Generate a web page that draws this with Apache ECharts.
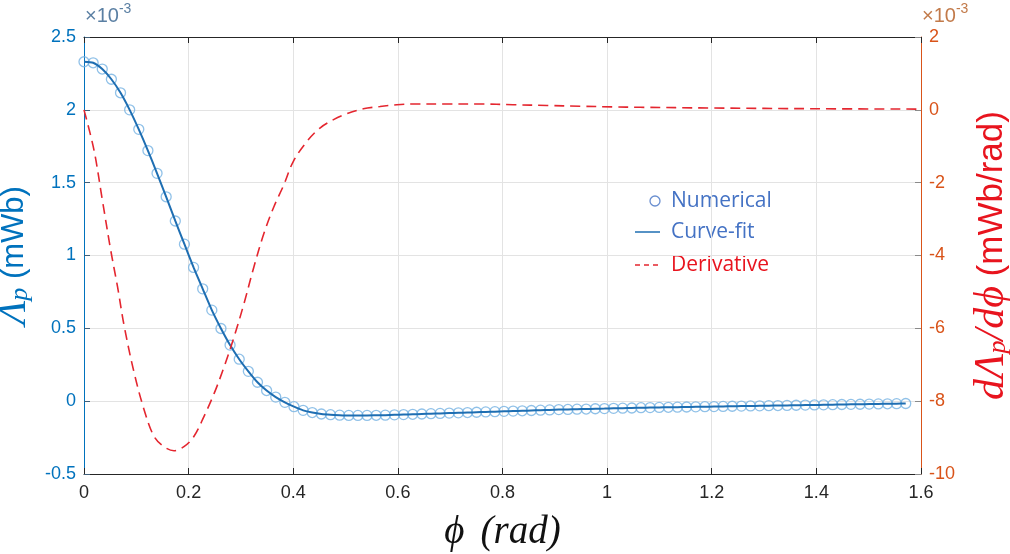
<!DOCTYPE html>
<html>
<head>
<meta charset="utf-8">
<script src="https://cdn.jsdelivr.net/npm/echarts@6/dist/echarts.min.js"></script>
<style>
html, body { margin: 0; padding: 0; background: #fff; }
#chart { width: 1010px; height: 554px; }
</style>
</head>
<body>
<div id="chart"></div>
<script>
// Numerical: one sample every 1 degree from 0 to 90 deg (values in x1e-3 mWb)
const phiStepDeg = 1
const lambdaNum = [
  2.330, 2.323, 2.280, 2.210, 2.117, 2.000, 1.866, 1.720, 1.564, 1.403,
  1.237, 1.078, 0.918, 0.771, 0.625, 0.499, 0.385, 0.288, 0.205, 0.130,
  0.073, 0.028, -0.008, -0.038, -0.063, -0.078, -0.088, -0.093, -0.096, -0.098,
  -0.098, -0.098, -0.097, -0.096, -0.094, -0.092, -0.090, -0.088, -0.086, -0.084,
  -0.082, -0.080, -0.078, -0.076, -0.074, -0.072, -0.070, -0.068, -0.066, -0.064,
  -0.062, -0.060, -0.058, -0.057, -0.055, -0.054, -0.052, -0.051, -0.049, -0.048,
  -0.047, -0.045, -0.044, -0.043, -0.042, -0.041, -0.040, -0.039, -0.038, -0.037,
  -0.036, -0.035, -0.034, -0.033, -0.032, -0.031, -0.030, -0.029, -0.028, -0.027,
  -0.026, -0.025, -0.024, -0.023, -0.022, -0.021, -0.020, -0.019, -0.018, -0.017,
  -0.016
]
// Derivative (x1e-3 mWb/rad)
const derivPhi = [
  0, 0.019, 0.035, 0.051, 0.064, 0.077, 0.096, 0.115, 0.134, 0.153,
  0.172, 0.191, 0.210, 0.229, 0.249, 0.268, 0.287, 0.306, 0.325, 0.344,
  0.363, 0.382, 0.400, 0.426, 0.451, 0.477, 0.502, 0.534, 0.566, 0.598,
  0.630, 0.693, 0.757, 0.820, 0.885, 0.948, 1.011, 1.063, 1.200, 1.400, 1.600
]
const derivVal = [
  0, -1.10, -2.47, -3.85, -4.85, -5.95, -7.23, -8.24, -8.97, -9.25,
  -9.36, -9.25, -8.97, -8.43, -7.78, -7.05, -6.23, -5.31, -4.30, -3.39,
  -2.66, -2.06, -1.42, -0.87, -0.50, -0.27, -0.11, 0.03, 0.09, 0.14,
  0.16, 0.16, 0.16, 0.14, 0.12, 0.10, 0.08, 0.07, 0.05, 0.03, 0.02
]
const legendNames = ['Numerical', 'Curve-fit', 'Derivative']

const numPoints = lambdaNum.map((v, i) => [i * phiStepDeg * Math.PI / 180, v])
const derivPoints = derivPhi.map((p, i) => [p, derivVal[i]])

const blue = '#0072BD'
const orange = '#D95319'
const red = '#E8141E'
const dark = '#262626'
const serif = 'Liberation Serif'
const sans = 'Liberation Sans'

const chart = echarts.init(document.getElementById('chart'))
chart.setOption({
  animation: false,
  backgroundColor: '#fff',
  grid: { left: 84, right: 89, top: 37, bottom: 80, containLabel: false, outerBoundsMode: 'none' },
  xAxis: [{
    type: 'value', min: 0, max: 1.6, interval: 0.2, position: 'bottom',
    axisLine: { show: true, onZero: false, lineStyle: { color: dark, width: 1 } },
    axisTick: { show: true, inside: true, length: 6, lineStyle: { color: dark } },
    axisLabel: { color: dark, fontSize: 18, fontFamily: sans, margin: 10,
      formatter: v => String(+v.toFixed(1)) },
    splitLine: { show: true, lineStyle: { color: '#e3e3e3' } },
    name: '{i|ϕ}{sp| }{i|(rad)}', nameLocation: 'middle', nameGap: 39,
    nameTextStyle: { rich: {
      i: { fontFamily: serif, fontStyle: 'italic', fontSize: 39, color: '#111' },
      sp: { fontSize: 39, width: 16 }
    } }
  }, {
    type: 'value', min: 0, max: 1.6, interval: 0.2, position: 'top',
    axisLine: { show: true, onZero: false, lineStyle: { color: dark, width: 1 } },
    axisTick: { show: true, inside: true, length: 6, lineStyle: { color: dark } },
    axisLabel: { show: false }, splitLine: { show: false }
  }],
  yAxis: [{
    type: 'value', min: -0.5, max: 2.5, interval: 0.5, position: 'left',
    axisLine: { show: true, onZero: false, lineStyle: { color: blue, width: 1 } },
    axisTick: { show: true, inside: true, length: 6, lineStyle: { color: '#40607a' } },
    axisLabel: { color: blue, fontSize: 18, fontFamily: sans, margin: 8,
      formatter: v => String(+v.toFixed(1)) },
    splitLine: { show: true, lineStyle: { color: '#e3e3e3' } },
    name: '{g|Λ}{s|p}{n| (mWb)}', nameLocation: 'middle', nameGap: 41, nameRotate: 90,
    nameTextStyle: { rich: {
      g: { fontFamily: serif, fontStyle: 'italic', fontSize: 40, color: blue, lineHeight: 38, verticalAlign: 'middle' },
      s: { fontFamily: serif, fontStyle: 'italic', fontSize: 26, color: blue, lineHeight: 38, verticalAlign: 'bottom' },
      n: { fontFamily: sans, fontSize: 31, color: blue, lineHeight: 38, verticalAlign: 'middle' }
    } }
  }, {
    type: 'value', min: -10, max: 2, interval: 2, position: 'right',
    axisLine: { show: true, onZero: false, lineStyle: { color: orange, width: 1 } },
    axisTick: { show: true, inside: true, length: 6, lineStyle: { color: '#8a8a8a' } },
    axisLabel: { color: orange, fontSize: 18, fontFamily: sans, margin: 8 },
    splitLine: { show: false },
    name: '{i|dΛ}{s|p}{i|/dϕ}{n| (mWb/rad)}', nameLocation: 'middle', nameGap: 52, nameRotate: 90,
    nameTextStyle: { rich: {
      i: { fontFamily: serif, fontStyle: 'italic', fontSize: 42, color: red, lineHeight: 38, verticalAlign: 'middle' },
      s: { fontFamily: serif, fontStyle: 'italic', fontSize: 26, color: red, lineHeight: 38, verticalAlign: 'bottom' },
      n: { fontFamily: sans, fontSize: 35, color: red, lineHeight: 38, verticalAlign: 'middle' }
    } }
  }],
  series: [{
    name: legendNames[0], type: 'scatter', xAxisIndex: 0, yAxisIndex: 0,
    data: numPoints, symbol: 'circle', symbolSize: 10, z: 2,
    itemStyle: { color: 'rgba(255,255,255,0)', borderColor: '#74B2E2', borderWidth: 1.3 }
  }, {
    name: legendNames[1], type: 'line', xAxisIndex: 0, yAxisIndex: 0,
    data: numPoints, showSymbol: false, smooth: 0.2, z: 3,
    lineStyle: { color: '#1E6EB2', width: 2 }
  }, {
    name: legendNames[2], type: 'line', xAxisIndex: 0, yAxisIndex: 1,
    data: derivPoints, showSymbol: false, smooth: 0.35, z: 4,
    lineStyle: { color: '#E4262F', width: 1.6, type: [10, 6] }
  }],
  graphic: [
    // x10^-3 multipliers
    { type: 'text', left: 85, top: 2, style: {
      text: '{a|×10}{b|-3}', rich: {
        a: { fontFamily: sans, fontSize: 20, fill: '#5a7fa3', verticalAlign: 'bottom', lineHeight: 24 },
        b: { fontFamily: sans, fontSize: 14, fill: '#5a7fa3', verticalAlign: 'top', lineHeight: 24 }
      } } },
    { type: 'text', left: 922, top: 2, style: {
      text: '{a|×10}{b|-3}', rich: {
        a: { fontFamily: sans, fontSize: 20, fill: '#c27a4a', verticalAlign: 'bottom', lineHeight: 24 },
        b: { fontFamily: sans, fontSize: 14, fill: '#c27a4a', verticalAlign: 'top', lineHeight: 24 }
      } } },
    // legend
    { type: 'circle', shape: { cx: 655, cy: 201, r: 5 },
      style: { fill: 'none', stroke: '#6A8FD0', lineWidth: 1.3 } },
    { type: 'line', shape: { x1: 635, y1: 232, x2: 660, y2: 232 },
      style: { stroke: '#1E6EB2', lineWidth: 1.5 } },
    { type: 'line', shape: { x1: 635, y1: 265, x2: 661, y2: 265 },
      style: { stroke: '#E4262F', lineWidth: 1.5, lineDash: [5, 4] } },
    { type: 'text', x: 671, y: 201, style: { text: legendNames[0], fontFamily: 'Open Sans', fontSize: 21, fill: '#4472C4', verticalAlign: 'middle' } },
    { type: 'text', x: 671, y: 232, style: { text: legendNames[1], fontFamily: 'Open Sans', fontSize: 21, fill: '#4472C4', verticalAlign: 'middle' } },
    { type: 'text', x: 671, y: 265, style: { text: legendNames[2], fontFamily: 'Open Sans', fontSize: 21, fill: red, verticalAlign: 'middle' } }
  ]
})
</script>
</body>
</html>
